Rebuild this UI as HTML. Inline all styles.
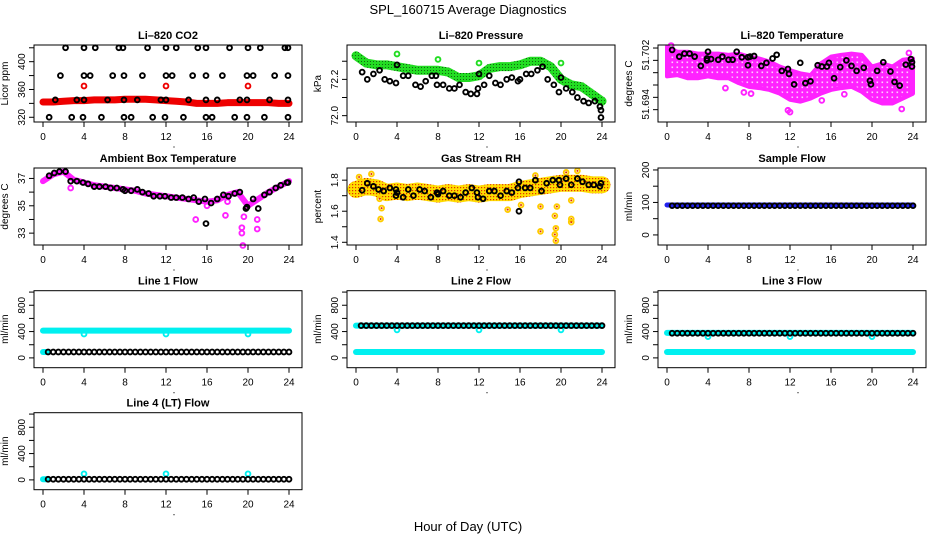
<!DOCTYPE html>
<html><head><meta charset="utf-8"><style>
html,body{margin:0;padding:0;background:#fff;}
svg{display:block;font-family:"Liberation Sans",Arial,sans-serif;}
</style></head><body>
<svg id="chart" width="936" height="540" viewBox="0 0 936 540" xmlns="http://www.w3.org/2000/svg">
<defs>
<pattern id="pGreen" width="3" height="3" patternUnits="userSpaceOnUse"><rect width="3" height="3" fill="#22dd22"/><rect x="1" y="1" width="1" height="1" fill="#116611"/></pattern>
<pattern id="pMag" width="5" height="5" patternUnits="userSpaceOnUse"><rect width="5" height="5" fill="#ff22ff"/><rect x="1.5" y="1.5" width="1.6" height="1.6" fill="#ffccff"/></pattern>
<pattern id="pRH" width="3" height="3" patternUnits="userSpaceOnUse"><rect width="3" height="3" fill="#ffdd00"/><rect x="1" y="1" width="1.2" height="1.2" fill="#e03000"/></pattern>
</defs>
<text x="468" y="14" text-anchor="middle" font-size="13">SPL_160715  Average Diagnostics</text>
<text x="468" y="531" text-anchor="middle" font-size="13">Hour of Day (UTC)</text>
</svg>
<script>
// ---- shared hour arrays ----
const H25 = [0,1,2,3,4,5,6,7,8,9,10,11,12,13,14,15,16,17,18,19,20,21,22,23,24];
const H48 = [0.5,1,1.5,2,2.5,3,3.5,4,4.5,5,5.5,6,6.5,7,7.5,8,8.5,9,9.5,10,10.5,11,11.5,12,12.5,13,13.5,14,14.5,15,15.5,16,16.5,17,17.5,18,18.5,19,19.5,20,20.5,21,21.5,22,22.5,23,23.5,24];
const xTicks = [0,4,8,12,16,20,24];

// ---- Li-820 CO2 ----
const co2Red = [342,342,343,344,344,345,345,345,346,346,346,345,344,343,342,340,340,340,341,341,341,341,341,340,340];
const co2RedOutX = [4,12,20];
const co2RedOutY = [365,365,365];
const co2BlackX = [2.2,4,5.1,7.4,7.8,10.2,12,13,15.1,15.9,18.2,20,21.2,23.6,23.9, 1.7,4,4.6,6.8,7.9,9.7,12,12.6,14.6,15.9,17.5,19.9,20.5,22.6,23.9, 1.2,3.3,4,6.3,7.9,9.2,11.5,12,14.2,15.9,17,19.2,19.9,22.1,23.9, 0.6,2.8,3.9,5.7,7.9,8.6,10.7,11.9,13.7,15.9,16.5,18.7,19.9,21.6,23.9];
const co2BlackY = [420,420,420,420,420,420,420,420,420,420,420,420,420,420,420, 380,380,380,380,380,380,380,380,380,380,380,380,380,380,380, 345,345,345,345,345,345,345,345,345,345,345,345,345,345,345, 320,320,320,320,320,320,320,320,320,320,320,320,320,320,320];

// ---- Li-820 Pressure ----
const presGreen = [72.33,72.29,72.28,72.28,72.27,72.26,72.25,72.25,72.25,72.24,72.21,72.21,72.22,72.26,72.27,72.27,72.28,72.30,72.30,72.27,72.20,72.17,72.16,72.12,72.08];
const presGreenOutX = [4,8,12,20];
const presGreenOutY = [72.34,72.31,72.29,72.29];
const presBlackX = [0.6,1.1,1.7,2.3,2.8,3.3,3.9,4,4.6,5.1,5.8,6.3,6.8,7.4,7.8,7.9,8.5,9.1,9.6,10.1,10.7,11.2,11.8,11.9,12,12.5,13,13.6,14.1,14.7,15.2,15.8,16,16.6,17.1,17.7,18.2,18.7,19.3,19.8,20,20.5,21.1,21.6,22.2,22.7,23.3,23.8,23.9,23.9];
const presBlackY = [72.24,72.2,72.23,72.25,72.2,72.19,72.18,72.28,72.22,72.22,72.17,72.16,72.19,72.22,72.22,72.17,72.17,72.15,72.15,72.17,72.13,72.12,72.12,72.15,72.23,72.17,72.22,72.18,72.17,72.2,72.21,72.19,72.2,72.23,72.23,72.25,72.27,72.2,72.17,72.13,72.21,72.15,72.13,72.1,72.08,72.07,72.08,72.05,72.03,71.99];

// ---- Li-820 Temperature ----
const tempHi = [51.7022,51.7014,51.7014,51.7011,51.7011,51.7011,51.7009,51.7011,51.7006,51.7003,51.6998,51.6990,51.6984,51.6979,51.6976,51.6995,51.7006,51.7009,51.7011,51.7009,51.6990,51.6995,51.6990,51.7001,51.7003];
const tempLo = [51.6974,51.6976,51.6971,51.6971,51.6974,51.6971,51.6971,51.6963,51.6957,51.6955,51.6952,51.6946,51.6936,51.6933,51.6938,51.6946,51.6952,51.6955,51.6957,51.6949,51.6936,51.6930,51.6930,51.6938,51.6946];
const tempOutX = [12,11.8,15.1,5.7,7.5,8.2,22.9,17.3,23.6,0.4];
const tempOutY = [51.6916,51.6919,51.6935,51.6955,51.6948,51.6946,51.6921,51.6945,51.7012,51.7024];
const tempBlackX = [0.5,1.2,1.7,2.2,2.7,3.3,3.9,3.9,4,4.3,5,5.4,6,6.4,6.8,7.3,7.9,7.9,8.1,8.5,9.2,9.7,10.3,10.7,11.2,11.8,11.9,12.4,13,13.5,14,14.7,15.1,15.6,15.8,16.3,16.9,17.5,18,18.5,19.2,19.8,19.9,20.5,21.1,21.8,22.2,22.7,23.3,23.8,23.9,23.9];
const tempBlackY = [51.7017,51.7006,51.7011,51.7011,51.7006,51.6991,51.7003,51.7,51.7014,51.7002,51.7001,51.7006,51.7001,51.7001,51.7014,51.7005,51.7005,51.6992,51.7006,51.7007,51.6991,51.6996,51.7003,51.7009,51.6983,51.6986,51.6978,51.6961,51.6996,51.6963,51.6966,51.6992,51.699,51.699,51.6996,51.6971,51.6989,51.7,51.6991,51.6983,51.6988,51.6967,51.6961,51.6983,51.6997,51.6982,51.6965,51.6959,51.6993,51.7002,51.6997,51.699];

// ---- Ambient Box Temperature ----
const ambMag = [36.8,37.3,37.5,36.9,36.7,36.5,36.4,36.3,36.2,36.1,35.9,35.8,35.7,35.6,35.5,35.4,35.3,35.4,35.8,36.0,35.0,35.5,36.0,36.4,36.8];
const ambOutX = [14.9,17.8,19.4,19.4,19.5,20.9,20.9,2.7,19.6,16,18];
const ambOutY = [34.0,34.3,33.4,33.0,32.1,34.0,33.3,36.3,34.2,35.0,35.3];
const ambBlackX = [0.6,1.1,1.6,2.2,2.7,3.3,3.9,4.4,5,5.5,6.1,6.6,7.2,7.8,8,8.6,9.2,9.7,10.3,10.8,11.4,11.9,12.5,13,13.6,14.2,14.7,15.2,15.8,15.9,16.4,17,17.6,18.1,18.7,19.2,19.8,19.9,20.5,21,21.6,22.1,22.7,23.2,23.8,23.9];
const ambBlackY = [37.2,37.4,37.5,37.5,36.8,36.8,36.7,36.6,36.4,36.4,36.4,36.3,36.3,36.2,36.1,36.1,36.2,36.0,35.9,35.7,35.7,35.7,35.6,35.6,35.6,35.5,35.6,35.3,35.5,33.7,35.2,35.5,35.8,35.7,35.9,36.0,34.8,34.9,35.5,34.8,35.8,36.0,36.3,36.5,36.7,36.7];

// ---- Gas Stream RH ----
const rhBand = [1.74,1.76,1.75,1.72,1.73,1.72,1.73,1.72,1.71,1.72,1.71,1.72,1.71,1.72,1.72,1.72,1.74,1.75,1.76,1.77,1.78,1.78,1.78,1.77,1.77];
const rhOutX = [0.3,1.5,2.4,2.5,2.3,14.8,16.1,18,18,19.4,19.5,19.4,19.5,19.6,21,21,21,20.5,21.6,17.5];
const rhOutY = [1.82,1.84,1.55,1.62,1.68,1.61,1.64,1.63,1.47,1.57,1.49,1.45,1.41,1.63,1.67,1.55,1.53,1.85,1.86,1.83];
const rhBlackX = [0.6,1.1,1.7,2.2,2.7,3.3,3.9,3.9,4,4.6,5.1,5.6,6.2,6.7,7.3,7.9,8,8.5,9.1,9.6,10.2,10.7,11.3,11.8,11.9,12.4,13,13.5,14.1,14.7,15.2,15.8,15.9,15.9,16.5,17,17.5,18.1,18.6,19.2,19.8,19.9,20.5,21,21.6,22.1,22.7,23.2,23.8,23.9];
const rhBlackY = [1.735,1.78,1.76,1.74,1.73,1.75,1.74,1.70,1.72,1.69,1.74,1.70,1.74,1.73,1.69,1.72,1.71,1.73,1.70,1.70,1.69,1.72,1.75,1.72,1.69,1.68,1.73,1.73,1.70,1.73,1.72,1.75,1.79,1.60,1.75,1.75,1.80,1.73,1.78,1.80,1.80,1.77,1.81,1.77,1.81,1.79,1.77,1.77,1.76,1.78];

// ---- Sample Flow ----
const sampleBlue = [92,92,92,92,92,92,92,92,92,92,92,92,92,92,92,92,92,92,92,92,92,92,92,92,92];
const sampleBlack = [90,90,90,90,90,90,90,90,90,90,90,90,90,90,90,90,90,90,90,90,90,90,90,90,90,90,90,90,90,90,90,90,90,90,90,90,90,90,90,90,90,90,90,90,90,90,90,90];

// ---- Line flows ----
const line1CyanHi = [415,415,415,415,415,415,415,415,415,415,415,415,415,415,415,415,415,415,415,415,415,415,415,415,415];
const line1Black = [90,90,90,90,90,90,90,90,90,90,90,90,90,90,90,90,90,90,90,90,90,90,90,90,90,90,90,90,90,90,90,90,90,90,90,90,90,90,90,90,90,90,90,90,90,90,90,90];
const line1DipY = [363,363,363];
const line2CyanHi = [490,490,490,490,490,490,490,490,490,490,490,490,490,490,490,490,490,490,490,490,490,490,490,490,490];
const line2CyanLo = [90,90,90,90,90,90,90,90,90,90,90,90,90,90,90,90,90,90,90,90,90,90,90,90,90];
const line2Black = [490,490,490,490,490,490,490,490,490,490,490,490,490,490,490,490,490,490,490,490,490,490,490,490,490,490,490,490,490,490,490,490,490,490,490,490,490,490,490,490,490,490,490,490,490,490,490,490];
const line2DipY = [425,425,425];
const line3CyanHi = [380,380,380,380,380,380,380,380,380,380,380,380,380,380,380,380,380,380,380,380,380,380,380,380,380];
const line3CyanLo = [90,90,90,90,90,90,90,90,90,90,90,90,90,90,90,90,90,90,90,90,90,90,90,90,90];
const line3Black = [375,375,375,375,375,375,375,375,375,375,375,375,375,375,375,375,375,375,375,375,375,375,375,375,375,375,375,375,375,375,375,375,375,375,375,375,375,375,375,375,375,375,375,375,375,375,375,375];
const line3DipY = [323,323,323];
const line4Black = [10,10,10,10,10,10,10,10,10,10,10,10,10,10,10,10,10,10,10,10,10,10,10,10,10,10,10,10,10,10,10,10,10,10,10,10,10,10,10,10,10,10,10,10,10,10,10,10];
const line4DipY = [92,92,92];
const dipX = [4,12,20];

const svg = document.getElementById('chart');
const NS = 'http://www.w3.org/2000/svg';
const COLS = [34,347,658];
const ROWS = [45,168,290.7,412.7];
const PW = 268, PH = 77;

function mk(tag, attrs, name, parent){
  const el = document.createElementNS(NS, tag);
  for (const k in attrs) el.setAttribute(k, attrs[k]);
  
  
  (parent || svg).appendChild(el);
  return el;
}

function panel(col,row,key,title,ylab,lo,hi,ticks,labels){
  const L = COLS[col], T = ROWS[row], B = T+PH, R = L+PW;
  const g = mk('g',{}, key+'-panel');
  const sx = v => L + 9 + v*(246/24);
  const sy = v => B - (v-lo)/(hi-lo)*PH;
  mk('text',{x:(L+R)/2,y:T-6,'text-anchor':'middle','font-size':'11','font-weight':'bold'}, key+'-title', g).textContent = title;
  const tx = L-26, ty = (T+B)/2;
  mk('text',{x:tx,y:ty,'text-anchor':'middle','font-size':'10',transform:'rotate(-90 '+tx+' '+ty+')'}, key+'-y-axis-title', g).textContent = ylab;
  xTicks.forEach(v=>{
    mk('line',{x1:sx(v),x2:sx(v),y1:B,y2:B+5,stroke:'#000','stroke-width':1}, key+'-x-tick', g);
    mk('text',{x:sx(v),y:B+18,'text-anchor':'middle','font-size':'10'}, key+'-x-tick-label', g).textContent = v;
  });
  ticks.forEach(v=>{
    mk('line',{x1:L-5,x2:L,y1:sy(v),y2:sy(v),stroke:'#000','stroke-width':1}, key+'-y-tick', g);
  });
  labels.forEach(v=>{
    const yy = sy(v), xx = L-9;
    mk('text',{x:xx,y:yy,'text-anchor':'middle','font-size':'10',transform:'rotate(-90 '+xx+' '+yy+')'}, key+'-y-tick-label', g).textContent = v;
  });
  mk('circle',{cx:(L+R)/2+6,cy:B+25,r:0.6,fill:'#000'}, key+'-x-label-dot', g);
  const clipG = mk('g',{}, key+'-plot-area', g);
  return {g:clipG, sx, sy, box:()=>mk('rect',{x:L,y:T,width:PW,height:PH,fill:'none',stroke:'#000','stroke-width':1}, key+'-frame', g)};
}

function band(p, xs, ys, color, w, name){
  const pts = xs.map((x,i)=>p.sx(x)+','+p.sy(ys[i])).join(' ');
  mk('polyline',{points:pts,fill:'none',stroke:color,'stroke-width':w,'stroke-linecap':'round','stroke-linejoin':'round'}, name, p.g);
}
function pts(p, xs, ys, color, name, r, sw){
  xs.forEach((x,i)=>{
    mk('circle',{cx:p.sx(x),cy:p.sy(ys[i]),r:r||2.4,fill:'none',stroke:color,'stroke-width':sw||1.9}, name, p.g);
  });
}

// Panel 1: CO2
let p = panel(0,0,'co2','Li\u2013820 CO2','Licor ppm',313.2,424,[320,340,360,380,400,420],[320,360,400]);
band(p,H25,co2Red,'#ee0000',7,'co2-red-band');
pts(p,co2RedOutX,co2RedOutY,'#ee0000','co2-red-point');
pts(p,co2BlackX,co2BlackY,'#000','co2-black-point');
p.box();

// Panel 2: Pressure
p = panel(1,0,'pressure','Li\u2013820 Pressure','kPa',71.965,72.3895,[72.0,72.1,72.2,72.3],['72.0','72.2']);
band(p,H25,presGreen,'url(#pGreen)',9,'pressure-green-band');
pts(p,presGreenOutX,presGreenOutY,'#22dd22','pressure-green-point');
pts(p,presBlackX,presBlackY,'#000','pressure-black-point');
p.box();

// Panel 3: Temperature
p = panel(2,0,'li820-temp','Li\u2013820 Temperature','degrees C',51.6900,51.70249,[51.692,51.694,51.696,51.698,51.700,51.702],[]);
{
  const top = H25.map((x,i)=>p.sx(x)+','+p.sy(tempHi[i]));
  const bot = H25.map((x,i)=>p.sx(x)+','+p.sy(tempLo[i])).reverse();
  mk('polygon',{points:top.concat(bot).join(' '),fill:'url(#pMag)',stroke:'#ff22ff','stroke-width':4,'stroke-linejoin':'round'}, 'temp-magenta-band', p.g);
  pts(p,tempOutX,tempOutY,'#ff22ff','temp-magenta-point');
  pts(p,tempBlackX,tempBlackY,'#000','temp-black-point');
  p.box();
  [['51.702',51.702],['51.694',51.694]].forEach(a=>{
    const yy = p.sy(a[1])+7, xx = COLS[2]-9;
    mk('text',{x:xx,y:yy,'text-anchor':'middle','font-size':'10',transform:'rotate(-90 '+xx+' '+yy+')'}, 'li820-temp-y-tick-label', p.g).textContent = a[0];
  });
}

// Panel 4: Ambient
p = panel(0,1,'ambient','Ambient Box Temperature','degrees C',32.133,37.763,[33,34,35,36,37],[33,35,37]);
band(p,H25,ambMag,'#ff22ff',6,'ambient-magenta-band');
pts(p,ambOutX,ambOutY,'#ff22ff','ambient-magenta-point');
pts(p,ambBlackX,ambBlackY,'#000','ambient-black-point');
p.box();

// Panel 5: RH
p = panel(1,1,'rh','Gas Stream RH','percent',1.3825,1.8783,[1.4,1.5,1.6,1.7,1.8],['1.4','1.6','1.8']);
band(p,H25,rhBand,'url(#pRH)',17,'rh-band');
rhOutX.forEach((x,i)=>{
  mk('circle',{cx:p.sx(x),cy:p.sy(rhOutY[i]),r:2.4,fill:'none',stroke:'#ffcc00','stroke-width':1.9}, 'rh-outlier-point', p.g);
  mk('circle',{cx:p.sx(x),cy:p.sy(rhOutY[i]),r:1,fill:'#e03000'}, 'rh-outlier-center', p.g);
});
pts(p,rhBlackX,rhBlackY,'#000','rh-black-point');
p.box();

// Panel 6: Sample flow
p = panel(2,1,'sample-flow','Sample Flow','ml/min',-31,206,[0,50,100,150,200],[0,100,200]);
band(p,H25,sampleBlue,'#2222ee',5,'sample-blue-band');
pts(p,H48,sampleBlack,'#000','sample-black-point');
p.box();

// Panel 7-10: Line flows
const FLO = -149, FHI = 1021, FT = [0,200,400,600,800,1000], FL = [0,400,800];
p = panel(0,2,'line1','Line 1 Flow','ml/min',FLO,FHI,FT,FL);
band(p,H25,line1CyanHi,'#00f0f0',6,'line1-cyan-band');
band(p,[0,0.5],[90,90],'#00f0f0',6,'line1-cyan-low');
pts(p,dipX,line1DipY,'#00f0f0','line1-cyan-point');
pts(p,H48,line1Black,'#000','line1-black-point');
p.box();

p = panel(1,2,'line2','Line 2 Flow','ml/min',FLO,FHI,FT,FL);
band(p,H25,line2CyanLo,'#00f0f0',6,'line2-cyan-low-band');
band(p,H25,line2CyanHi,'#00f0f0',6,'line2-cyan-high-band');
pts(p,dipX,line2DipY,'#00f0f0','line2-cyan-point');
pts(p,H48,line2Black,'#000','line2-black-point');
p.box();

p = panel(2,2,'line3','Line 3 Flow','ml/min',FLO,FHI,FT,FL);
band(p,H25,line3CyanLo,'#00f0f0',6,'line3-cyan-low-band');
band(p,H25,line3CyanHi,'#00f0f0',6,'line3-cyan-high-band');
pts(p,dipX,line3DipY,'#00f0f0','line3-cyan-point');
pts(p,H48,line3Black,'#000','line3-black-point');
p.box();

p = panel(0,3,'line4','Line 4 (LT) Flow','ml/min',FLO,FHI,FT,FL);
band(p,[0,0.5],[10,10],'#00f0f0',6,'line4-cyan-low');
pts(p,dipX,line4DipY,'#00f0f0','line4-cyan-point');
pts(p,H48,line4Black,'#000','line4-black-point');
p.box();
</script>
</body></html>
